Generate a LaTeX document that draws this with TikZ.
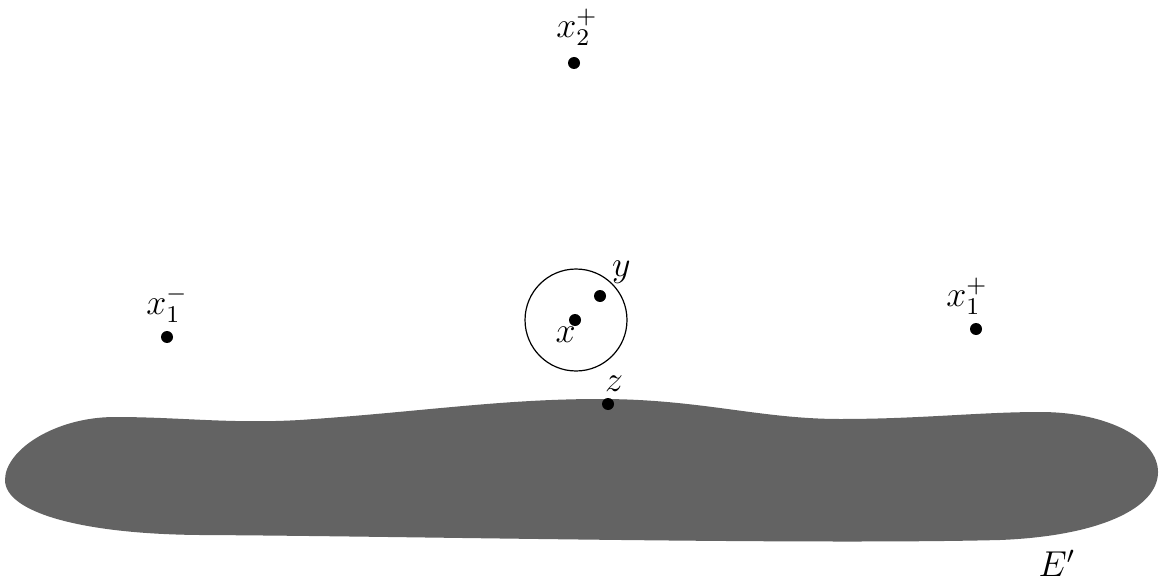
\documentclass[tikz,border=0pt]{standalone}
\usetikzlibrary{positioning}
\definecolor{setgray}{gray}{0.39}
\tikzset{
  pt/.style={circle, fill=black, inner sep=0pt, minimum size=4pt},
  ballline/.style={circle, draw, thin, inner sep=0pt, minimum size=34pt},
  every label/.style={font=\large}
}
\begin{document}
\begin{tikzpicture}[x=0.01172cm, y=-0.01172cm]
      \useasboundingbox (0,0) rectangle (1161,585);

      % the set E'
      \fill[setgray] (5,480) .. controls (5,450) and (55,417) .. (115,417)
         .. controls (180,417) and (230,424) .. (300,420)
         .. controls (420,412) and (500,399) .. (600,399)
         .. controls (700,399) and (760,419) .. (840,419)
         .. controls (920,419) and (980,412) .. (1040,412)
         .. controls (1110,412) and (1158,440) .. (1158,472)
         .. controls (1158,508) and (1100,536) .. (1000,540)
         .. controls (800,545) and (400,536) .. (200,535)
         .. controls (80,534) and (5,512) .. (5,480) -- cycle;
      \node[font=\large] (setE) at (1057,563) {$E'$};

      \begin{scope}[name prefix = pt-]
         \node[pt, label={[label distance=0pt, xshift=1pt]above:$x_2^+$}] (x2p) at (574,63) {};
         \node[pt, label={[label distance=-1pt]above:$x_1^-$}] (x1m) at (167,337) {};
         \node[pt, label={[label distance=-1pt, xshift=-3pt]above:$x_1^+$}] (x1p) at (976,329) {};
         \node[pt, label={[label distance=-4pt, xshift=2.5pt]below left:$x$}] (x) at (575,320) {};
         \node[pt, label={[label distance=-1.5pt]above right:$y$}] (y) at (600,296) {};
         \node[pt, label={[label distance=-1.5pt, xshift=2pt]above:$z$}] (z) at (608,404) {};
      \end{scope}

      \node[ballline] (ball) at (576,320) {};
   \end{tikzpicture}
\end{document}
